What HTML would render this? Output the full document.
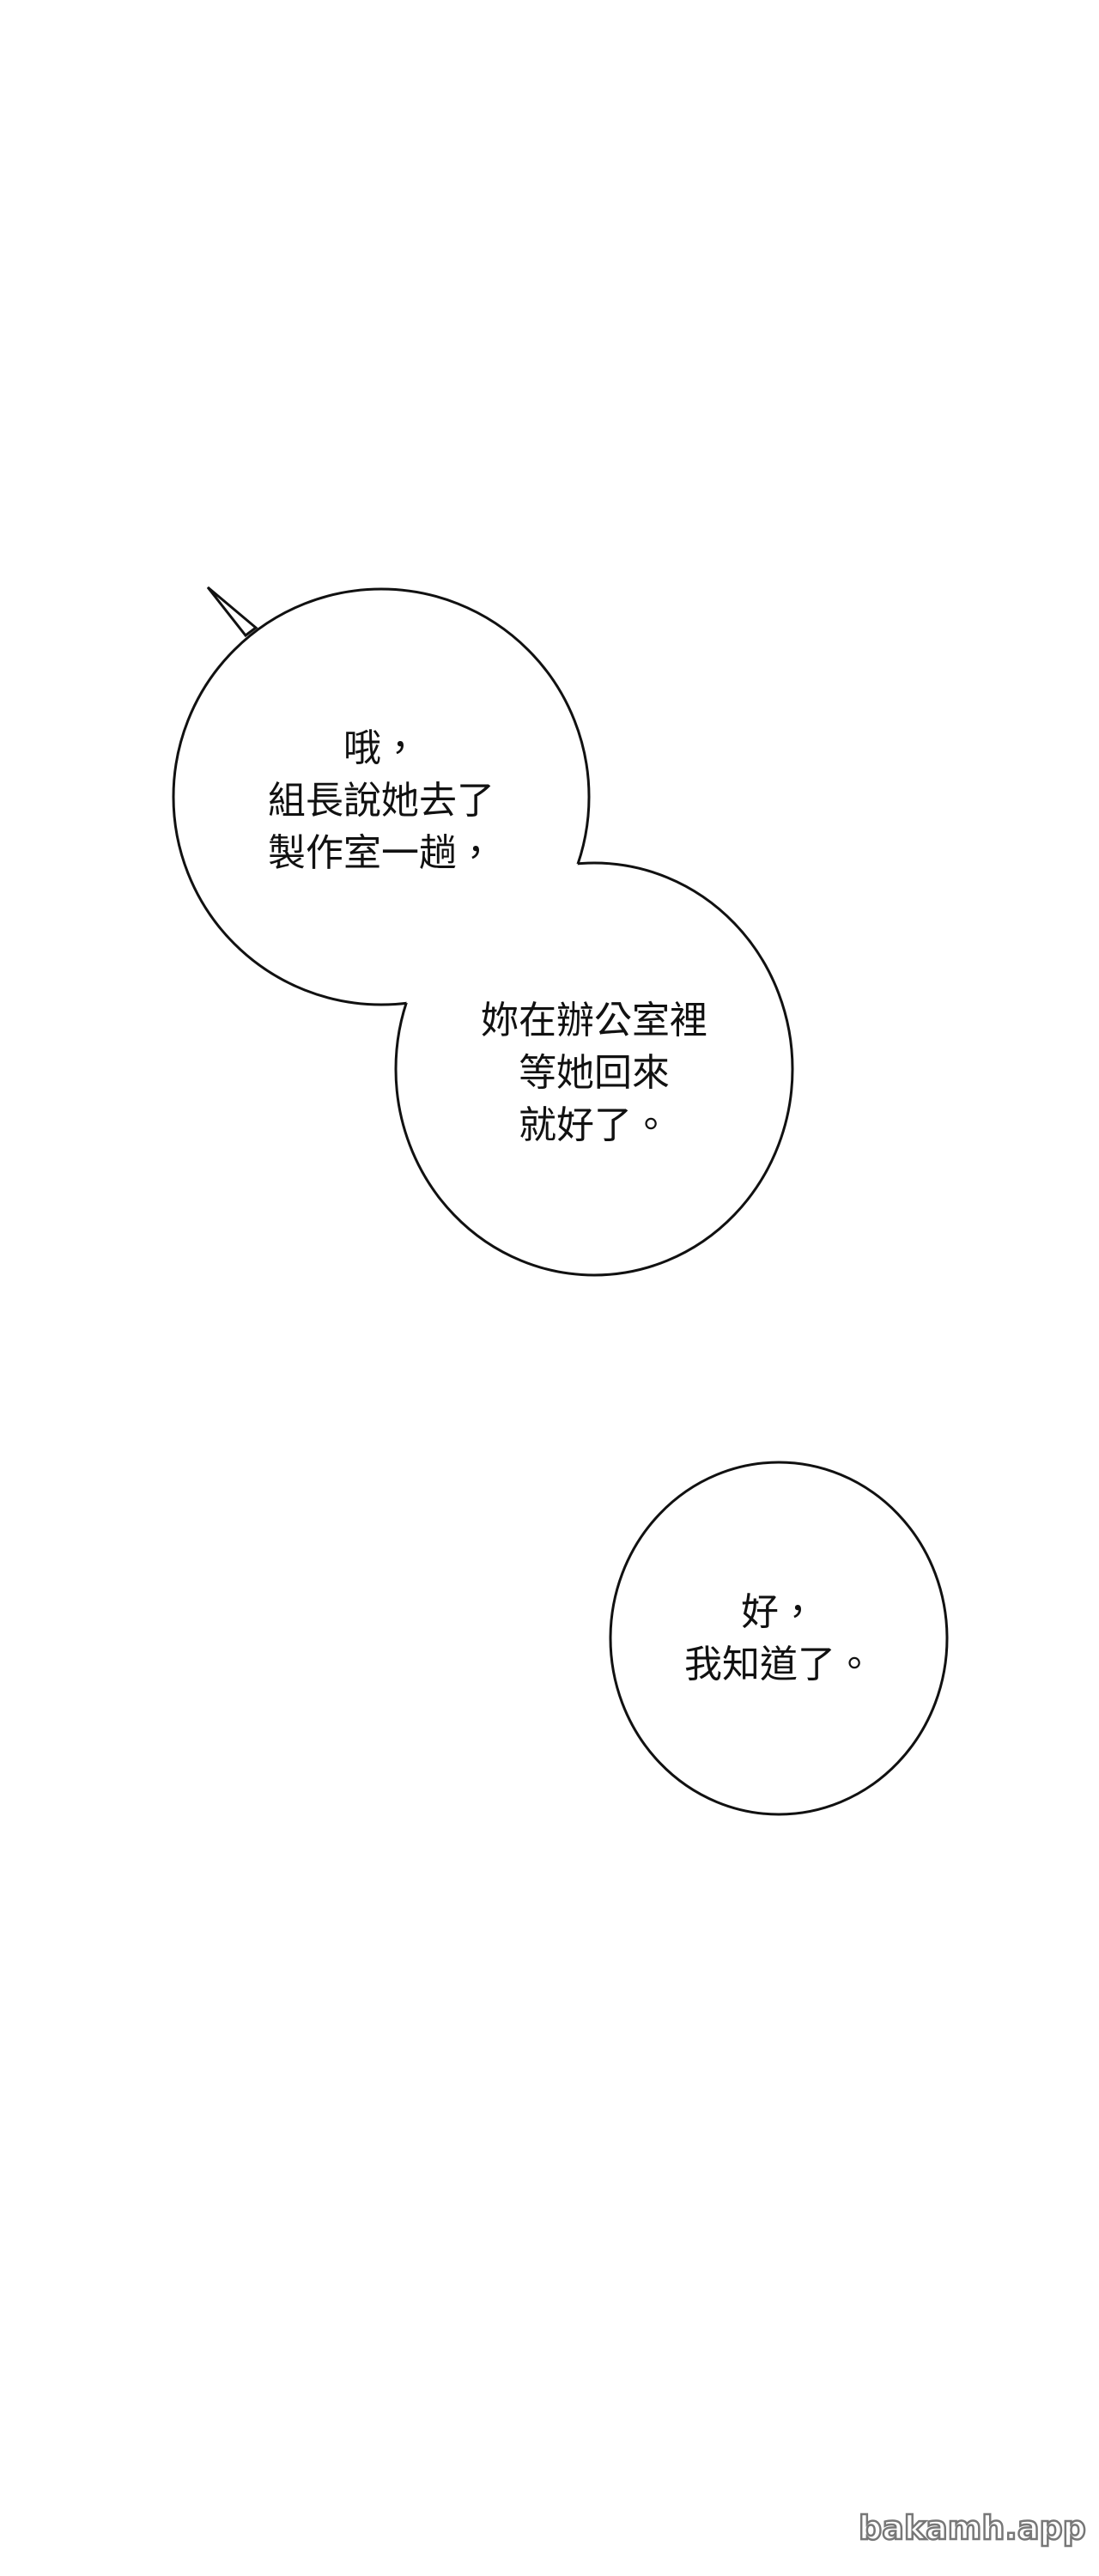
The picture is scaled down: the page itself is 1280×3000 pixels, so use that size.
<!DOCTYPE html>
<html><head><meta charset="utf-8"><style>
html,body{margin:0;padding:0;background:#fff;}
body{width:1280px;height:3000px;position:relative;overflow:hidden;}
svg{position:absolute;left:0;top:0;}
.t{position:absolute;font-family:"Liberation Sans","Noto Sans CJK TC",sans-serif;font-size:44px;line-height:61px;color:#111;text-align:center;white-space:nowrap;transform:translateX(-50%);}
.wm{position:absolute;left:1000px;top:2922px;font-family:"DejaVu Sans","Liberation Sans",sans-serif;font-weight:bold;font-size:38px;color:#fff;-webkit-text-stroke:2.5px #777;letter-spacing:0px;white-space:nowrap;}
</style></head><body>
<svg width="1280" height="3000" viewBox="0 0 1280 3000">
<defs>
<mask id="m1" maskUnits="userSpaceOnUse" x="0" y="0" width="1280" height="3000">
<rect width="1280" height="3000" fill="#fff"/>
<ellipse cx="692" cy="1245" rx="231" ry="240" fill="#000"/>
<polygon points="242,684 298,731 286,740" fill="#000"/>
</mask>
<mask id="m2" maskUnits="userSpaceOnUse" x="0" y="0" width="1280" height="3000">
<rect width="1280" height="3000" fill="#fff"/>
<circle cx="444" cy="928" r="242" fill="#000"/>
</mask>
</defs>
<polygon points="242,684 298,731 286,740" fill="#fff" stroke="#111" stroke-width="3" stroke-linejoin="miter"/>
<circle cx="444" cy="928" r="242" fill="#fff"/>
<ellipse cx="692" cy="1245" rx="231" ry="240" fill="#fff"/>
<circle cx="444" cy="928" r="242" fill="none" stroke="#111" stroke-width="3" mask="url(#m1)"/>
<ellipse cx="692" cy="1245" rx="231" ry="240" fill="none" stroke="#111" stroke-width="3" mask="url(#m2)"/>
<ellipse cx="907" cy="1908" rx="196" ry="205" fill="#fff" stroke="#111" stroke-width="3"/>
</svg>
<div class="t" style="left:444px;top:841px;">哦，<br>組長說她去了<br>製作室一趟，</div>
<div class="t" style="left:692px;top:1158px;">妳在辦公室裡<br>等她回來<br>就好了。</div>
<div class="t" style="left:907px;top:1847px;">好，<br>我知道了。</div>
<div class="wm">bakamh.app</div>
</body></html>
